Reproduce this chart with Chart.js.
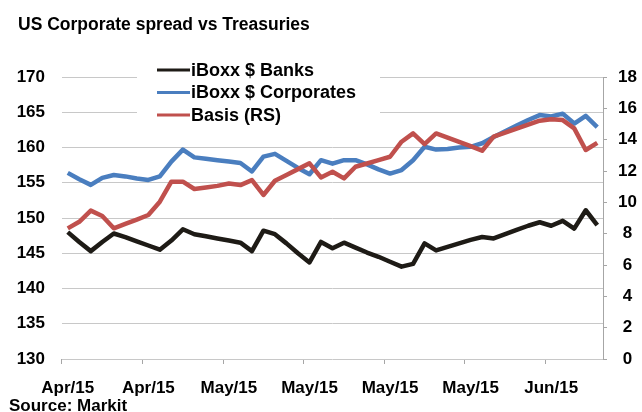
<!DOCTYPE html>
<html>
<head>
<meta charset="utf-8">
<script src="https://cdn.jsdelivr.net/npm/chart.js@4.4.0/dist/chart.umd.min.js"></script>
<style>
  html, body { margin: 0; padding: 0; background: #fff; }
  #wrap { width: 642px; height: 412px; position: relative; }
</style>
</head>
<body>
<div id="wrap"><canvas id="spread-chart"></canvas></div>
<script>
// values, one per day from 20 Apr 2015
const banks = [148.0, 146.6, 145.3, 146.6, 147.8, 147.3, 146.7, 146.1, 145.5, 146.8,
               148.4, 147.7, 147.4, 147.1, 146.8, 146.5, 145.3, 148.2, 147.7, 146.4,
               145.0, 143.7, 146.6, 145.7, 146.5, 145.8, 145.1, 144.5, 143.8, 143.1,
               143.5, 146.4, 145.4, 145.9, 146.4, 146.9, 147.3, 147.1, 147.7, 148.3,
               148.9, 149.4, 148.9, 149.6, 148.5, 151.1, 149.0];
const corporates = [156.4, 155.5, 154.7, 155.7, 156.1, 155.9, 155.6, 155.4, 155.9, 158.0,
                    159.7, 158.6, 158.4, 158.2, 158.0, 157.8, 156.6, 158.7, 159.1, 158.1,
                    157.1, 156.2, 158.2, 157.7, 158.2, 158.2, 157.6, 156.9, 156.3, 156.8,
                    158.2, 160.1, 159.7, 159.8, 160.0, 160.1, 160.6, 161.5, 162.3, 163.1,
                    163.9, 164.6, 164.4, 164.8, 163.4, 164.5, 162.9];
const basis = [8.34, 8.76, 9.47, 9.13, 8.34, 8.62, 8.90, 9.19, 10.04, 11.32,
               11.32, 10.85, 10.95, 11.05, 11.20, 11.10, 11.42, 10.47, 11.38, 11.75,
               12.12, 12.49, 11.59, 11.95, 11.53, 12.27, 12.48, 12.70, 12.91, 13.87,
               14.40, 13.72, 14.40, 14.13, 13.86, 13.59, 13.29, 14.19, 14.45, 14.70,
               14.96, 15.21, 15.30, 15.25, 14.72, 13.34, 13.80];
const seriesNames = ['iBoxx $ Banks', 'iBoxx $ Corporates', 'Basis (RS)'];
const seriesColors = ['#1e1b16', '#4a7ebf', '#c0504d'];
const monthNames = ['Jan','Feb','Mar','Apr','May','Jun','Jul','Aug','Sep','Oct','Nov','Dec'];
const labelEvery = 7;

const categories = [];
for (let i = 0; i < banks.length; i++) {
    const d = new Date(2015, 3, 20 + i);
    categories.push(monthNames[d.getMonth()] + '/' + String(d.getFullYear()).slice(2));
}

const FONT = "'Liberation Sans', Arial, sans-serif";
Chart.defaults.font.family = FONT;
Chart.defaults.color = '#000';

const extras = {
    id: 'extras',
    beforeDatasetsDraw(chart) {
        const ctx = chart.ctx;
        ctx.save();
        ctx.fillStyle = '#fff';
        ctx.fillRect(137, 58, 243, 68);
        ctx.restore();
    },
    afterDraw(chart) {
        const ctx = chart.ctx;
        ctx.save();
        ctx.fillStyle = '#000';
        ctx.textBaseline = 'middle';
        ctx.font = 'bold 17.5px ' + FONT;
        ctx.fillText('US Corporate spread vs Treasuries', 18, 25);
        ctx.font = 'bold 17px ' + FONT;
        ctx.fillText('Source: Markit', 9, 406);
        // legend
        ctx.font = 'bold 18px ' + FONT;
        for (let i = 0; i < seriesNames.length; i++) {
            const y = 70 + i * 22.5;
            ctx.strokeStyle = seriesColors[i];
            ctx.lineWidth = 3;
            ctx.beginPath();
            ctx.moveTo(157, y);
            ctx.lineTo(190, y);
            ctx.stroke();
            ctx.fillStyle = '#000';
            ctx.fillText(seriesNames[i], 191, y + 1);
        }
        ctx.restore();
    }
};

const spreadData = {
    labels: categories,
    datasets: [
        { label: seriesNames[0], data: banks, yAxisID: 'y', borderColor: seriesColors[0], order: 2 },
        { label: seriesNames[1], data: corporates, yAxisID: 'y', borderColor: seriesColors[1], order: 1 },
        { label: seriesNames[2], data: basis, yAxisID: 'y2', borderColor: seriesColors[2], order: 0 }
    ]
};

const spreadConfig = {
    type: 'line',
    data: spreadData,
    options: {
        responsive: true,
        maintainAspectRatio: false,
        animation: false,
        layout: { padding: { top: 77, left: 0, right: 0, bottom: 0 } },
        elements: {
            line: { borderWidth: 4.5, tension: 0, borderJoinStyle: 'round', fill: false },
            point: { radius: 0, hoverRadius: 0 }
        },
        plugins: {
            legend: { display: false },
            title: { display: false },
            tooltip: { enabled: false }
        },
        scales: {
            x: {
                type: 'category',
                offset: true,
                afterFit(scale) { scale.height = 53; },
                border: { display: false },
                grid: {
                    offset: true,
                    drawOnChartArea: false,
                    drawTicks: true,
                    tickLength: 5,
                    color: (c) => (c.index % labelEvery === 0 && c.index < categories.length) ? '#a6a6a6' : 'rgba(0,0,0,0)'
                },
                ticks: {
                    autoSkip: false,
                    maxRotation: 0,
                    padding: 14,
                    font: { size: 17, weight: 'bold' },
                    callback: function (value, index) {
                        return index % labelEvery === 0 ? this.getLabelForValue(value) : '';
                    }
                }
            },
            y: {
                position: 'left',
                min: 130,
                max: 170,
                afterFit(scale) { scale.width = 62; },
                border: { display: false },
                grid: { color: '#c8c8c8', lineWidth: 1, drawTicks: false },
                ticks: { stepSize: 5, padding: 17, font: { size: 17, weight: 'bold' } }
            },
            y2: {
                position: 'right',
                min: 0,
                max: 18,
                afterFit(scale) { scale.width = 39; },
                border: { display: true, color: '#a6a6a6' },
                grid: { drawOnChartArea: false, drawTicks: true, tickLength: 4, color: '#a6a6a6' },
                ticks: { stepSize: 2, padding: 11, crossAlign: 'center', font: { size: 17, weight: 'bold' } }
            }
        }
    },
    plugins: [extras]
};

const spreadChart = new Chart(document.getElementById('spread-chart'), spreadConfig);
</script>
</body>
</html>
